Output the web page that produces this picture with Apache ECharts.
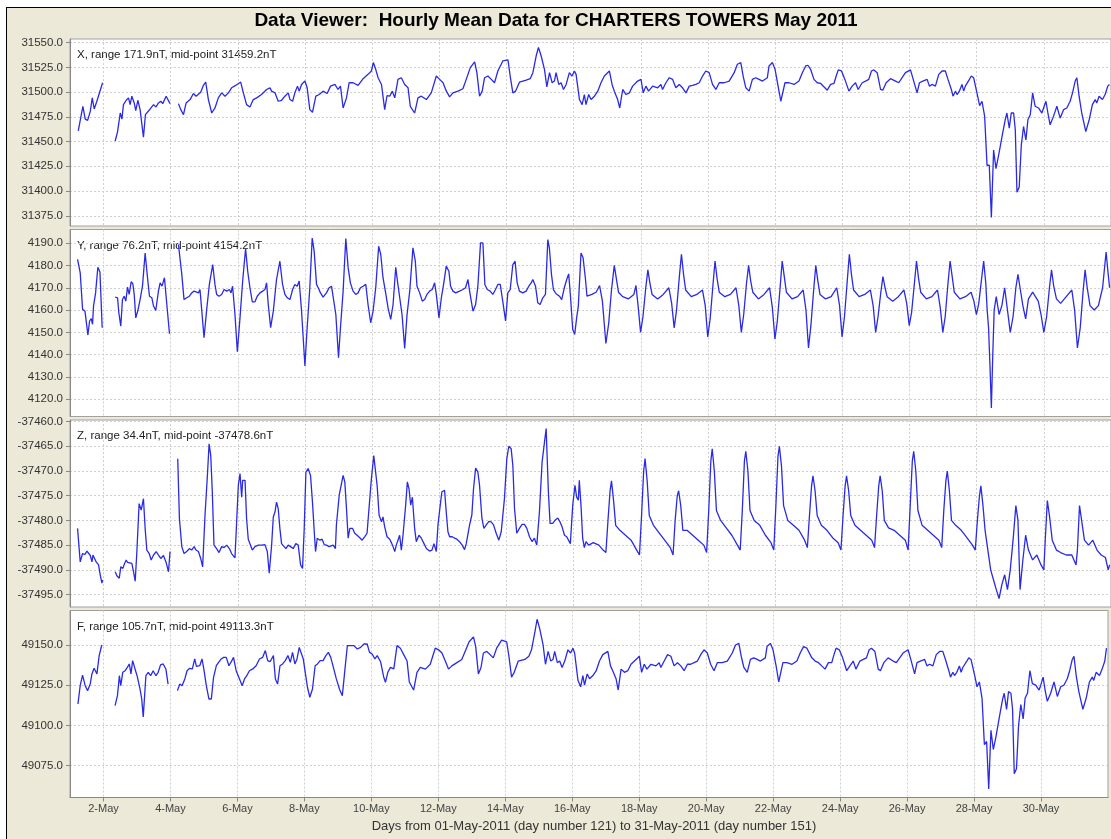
<!DOCTYPE html>
<html>
<head>
<meta charset="utf-8">
<script src="https://cdn.jsdelivr.net/npm/echarts@6/dist/echarts.min.js"></script>
<style>
html, body { margin: 0; padding: 0; background: #fff; overflow: hidden; }
#frame { position: absolute; left: 6px; top: 7px; width: 1200px; height: 1000px; border: 1.5px solid #000; background: #ECE9D8; }
#chart { position: absolute; left: 0; top: 0; width: 1111px; height: 839px; }
</style>
</head>
<body>
<div id="frame"></div>
<div id="chart"></div>
<script>
// 各分量：名称、范围、中点（取自图中文字）
var panelNames = ['X', 'Y', 'Z', 'F'];
var panelRange = [171.9, 76.2, 34.4, 105.7];
var panelMid = [31459.2, 4154.2, -37478.6, 49113.3];
var tickStep = [25, 10, 5, 25];

// 数据：[距 01-May 00:00 的小时数, nT]，null 表示缺测
var xComp = [
[5.9,31460.8],[9.2,31485.7],[10.9,31472.7],[12.6,31471.4],[14.5,31480.6],[15.9,31494.2],[17.3,31483.0],[19.2,31490.8],[23.3,31509.5],null,
[32.3,31450.6],[34.0,31460.1],[35.9,31478.9],[37.1,31472.7],[38.2,31487.4],[40.2,31491.8],[41.8,31494.2],[43.0,31487.4],[44.2,31495.9],[45.9,31489.1],[47.0,31481.3],[48.5,31491.8],[50.1,31482.3],[52.5,31454.4],[53.9,31477.2],[57.3,31483.0],[59.7,31487.4],[61.5,31485.0],[63.2,31489.1],[64.9,31490.8],[66.3,31488.4],[68.7,31495.9],[71.5,31488.4],null,
[77.5,31488.4],[79.2,31482.3],[81.1,31477.2],[83.0,31489.1],[85.8,31492.5],[88.2,31498.6],[90.1,31495.9],[93.4,31500.0],[95.3,31506.8],[97.0,31510.2],[98.9,31492.5],[101.3,31478.9],[103.6,31484.0],[106.0,31494.2],[108.4,31499.3],[110.8,31495.9],[113.2,31499.3],[115.5,31504.4],[118.4,31506.8],[122.0,31510.2],[123.9,31499.3],[126.2,31487.4],[128.6,31485.0],[131.0,31492.5],[133.4,31494.2],[136.9,31497.6],[140.5,31502.7],[142.9,31504.4],[144.1,31501.0],[146.5,31499.3],[148.8,31490.8],[151.2,31491.8],[153.6,31495.9],[156.0,31499.3],[157.2,31492.5],[159.1,31490.8],[160.7,31499.3],[162.6,31506.1],[163.8,31501.0],[165.5,31507.8],[167.9,31511.2],[169.5,31504.4],[171.4,31482.3],[173.3,31479.6],[175.7,31495.9],[178.1,31497.6],[180.9,31501.0],[183.8,31498.6],[186.2,31506.1],[189.3,31507.8],[191.6,31502.7],[193.3,31506.1],[195.2,31484.0],[197.6,31494.2],[199.5,31509.5],[202.3,31509.5],[205.9,31506.8],[209.5,31513.6],[213.0,31518.0],[215.4,31521.4],[216.8,31529.9],[218.5,31523.1],[220.2,31514.6],[222.6,31507.8],[224.9,31482.3],[226.6,31496.6],[228.5,31495.9],[230.4,31501.0],[232.1,31494.2],[234.4,31512.9],[236.8,31514.6],[239.2,31507.8],[241.6,31504.4],[243.2,31485.7],[246.3,31478.9],[248.7,31494.2],[251.1,31495.9],[254.7,31492.5],[258.2,31499.3],[261.8,31516.3],[264.2,31512.9],
[266.6,31509.5],[269.0,31501.0],[271.3,31495.2],[273.7,31499.3],[277.3,31501.0],[280.8,31503.4],[283.2,31512.9],[286.1,31524.8],[289.2,31530.6],[290.8,31519.7],[292.7,31495.9],[294.6,31501.0],[296.3,31514.6],[298.7,31516.3],[301.1,31512.9],[303.4,31509.5],[305.8,31521.4],[309.4,31531.7],[313.0,31532.7],[314.6,31516.3],[316.5,31499.3],[318.4,31501.0],[321.3,31510.2],[326.0,31512.2],[328.9,31513.6],[330.8,31519.7],[333.2,31536.8],[334.8,31545.2],[336.7,31536.8],[339.1,31523.1],[340.8,31505.4],[342.7,31519.7],[344.6,31509.5],[346.2,31511.2],[347.4,31519.7],[349.3,31507.8],[351.0,31509.5],[352.7,31502.7],[354.6,31507.8],[356.9,31519.7],[358.8,31516.3],[360.5,31521.4],[361.7,31518.0],[364.1,31492.5],[366.0,31487.4],[367.6,31497.6],[368.8,31487.4],[370.7,31497.6],[372.4,31492.5],[374.8,31495.9],[377.2,31501.0],[379.5,31509.5],[381.9,31516.3],[385.5,31521.4],[387.4,31507.8],[389.0,31501.0],[391.4,31492.5],[392.9,31484.0],[395.0,31502.7],[397.4,31497.6],[399.8,31499.3],[402.1,31506.1],[405.7,31511.2],[408.1,31512.9],[409.7,31499.3],[411.6,31506.1],[413.5,31501.0],[416.4,31506.1],[420.0,31504.4],[422.3,31507.8],[423.5,31502.7],[425.9,31509.5],[428.3,31514.6],[430.7,31512.9],[433.0,31504.4],[435.4,31507.8],[437.8,31504.4],[440.2,31499.3],[442.6,31506.1],[444.9,31506.8],[447.3,31507.8],[449.7,31509.5],[452.1,31516.3],[454.4,31521.4],[456.8,31519.7],[459.2,31507.8],[461.6,31502.7],[464.0,31509.5],[467.5,31509.5],[471.1,31511.2],[474.7,31519.7],[477.0,31528.2],[479.4,31529.9],[481.1,31516.3],[483.0,31504.4],[485.4,31501.0],[487.7,31512.9],[490.1,31514.6],[492.5,31512.9],[494.9,31511.2],[498.4,31514.6],[499.6,31526.5],[502.0,31529.9],[503.9,31523.1],[506.3,31504.4],[508.0,31490.8],[509.1,31490.8],[511.0,31509.5],[513.9,31509.5],[517.5,31507.8],[521.0,31511.2],[523.4,31519.7],[525.8,31526.5],[527.4,31527.2],[529.3,31523.1],
[531.7,31512.9],[534.1,31509.5],[536.5,31508.8],[538.8,31505.4],[541.2,31502.0],[543.6,31507.8],[546.0,31508.8],[547.6,31516.3],[549.1,31522.5],[551.4,31521.4],[553.8,31512.9],[556.7,31501.0],[559.0,31506.1],[561.4,31509.5],[563.3,31502.7],[566.2,31509.5],[568.6,31511.2],[570.9,31512.9],[572.8,31521.4],[574.5,31522.5],[576.9,31519.7],[579.3,31502.7],[580.9,31502.0],[583.3,31509.5],[586.4,31513.6],[590.0,31511.2],[592.3,31509.5],[594.7,31514.6],[597.1,31519.7],[600.7,31522.5],[603.0,31511.2],[605.4,31499.3],[607.1,31509.5],[609.5,31511.2],[612.6,31512.9],[614.2,31506.1],[616.1,31507.8],[618.5,31506.1],[620.9,31518.0],[623.3,31521.4],[625.6,31521.4],[627.5,31512.9],[629.9,31502.7],[631.1,31495.9],[632.8,31501.0],[634.0,31497.6],[635.6,31501.0],[637.5,31507.8],[638.7,31501.0],[639.9,31506.1],[641.1,31504.4],[642.8,31512.9],[644.2,31516.3],[645.8,31514.6],[647.0,31516.3],[648.7,31495.9],[650.1,31486.4],[651.8,31490.8],[653.7,31475.5],[655.4,31426.1],[657.0,31426.1],[658.5,31373.3],[660.1,31441.4],[661.8,31422.7],[663.7,31436.3],[666.1,31455.0],[668.4,31472.1],[669.6,31478.9],[671.3,31463.6],[672.7,31478.9],[674.4,31478.9],[675.6,31461.8],[676.8,31398.9],[678.4,31404.0],[679.9,31446.5],[681.5,31465.3],[683.2,31451.6],[684.6,31472.1],[686.3,31477.2],[688.0,31499.3],[689.8,31485.7],[692.2,31484.0],[694.6,31478.9],[695.8,31484.0],[697.5,31490.8],[698.9,31478.9],[700.5,31467.0],[702.9,31475.5],[705.3,31485.7],[707.7,31473.8],[710.1,31482.3],[712.4,31484.0],[714.8,31490.8],[716.5,31499.3],[718.4,31511.2],[719.6,31514.6],[721.2,31495.9],[723.1,31478.9],[726.0,31460.1],[728.4,31472.1],[730.7,31487.4],[732.7,31492.5],[733.8,31489.1],[735.5,31495.9],[737.9,31492.5],[739.8,31497.6],[741.7,31506.1],[742.9,31507.8]
];

var yComp = [
[5.4,4182.7],[7.3,4176.7],[9.0,4160.3],[10.7,4159.5],[12.8,4148.8],[14.0,4155.1],[15.2,4156.2],[16.1,4153.6],[16.8,4161.8],[18.3,4167.7],[19.9,4179.2],[21.4,4177.1],[23.0,4152.1],null,
[32.3,4165.8],[34.0,4165.5],[34.9,4158.8],[36.3,4152.8],[37.5,4164.7],[38.7,4166.2],[39.9,4164.0],[41.1,4170.3],[42.3,4167.0],[43.7,4172.7],[44.9,4171.8],[45.9,4167.0],[47.0,4156.5],[48.5,4159.8],[50.1,4164.7],[51.8,4170.7],[53.7,4185.6],[55.4,4174.5],[56.8,4166.2],[58.5,4165.5],[59.7,4161.8],[61.3,4159.8],[63.2,4168.5],[64.4,4172.2],[65.8,4170.7],[67.5,4174.5],[69.2,4162.5],[71.1,4149.4],null,
[77.5,4189.4],[79.9,4176.0],[81.5,4164.7],[83.4,4165.5],[85.3,4166.2],[87.0,4167.7],[88.7,4168.5],[90.1,4169.2],[91.8,4167.7],[92.9,4169.2],[94.1,4160.3],[95.8,4147.6],[97.7,4160.3],[99.6,4171.5],[102.0,4180.4],[103.6,4171.5],[104.8,4167.0],[106.5,4166.2],[108.4,4167.0],[110.1,4169.2],[112.0,4168.5],[113.9,4169.2],[115.1,4167.7],[116.2,4170.7],[117.9,4158.0],[119.6,4141.3],[121.5,4156.5],[123.4,4173.0],[125.5,4187.6],[127.0,4177.4],[128.6,4170.0],[130.3,4163.7],[132.2,4163.7],[133.8,4166.2],[135.8,4167.7],[137.7,4168.5],[139.3,4169.2],[140.5,4172.2],[141.7,4162.5],[143.4,4152.1],[145.3,4159.5],[147.6,4173.7],[150.0,4181.9],[151.9,4171.5],[153.6,4167.0],[155.3,4165.5],[157.2,4164.7],[159.1,4169.2],[160.7,4171.5],[162.4,4170.7],[163.8,4173.0],[165.5,4159.5],[167.9,4134.9],[169.5,4152.1],[171.4,4170.0],[173.1,4192.3],[174.5,4186.4],[176.2,4171.5],[177.4,4170.0],[179.0,4167.7],[180.9,4165.8],[183.3,4167.7],[185.2,4170.0],[186.9,4170.7],[188.1,4170.0],[190.0,4158.0],[191.9,4138.6],[193.3,4152.1],[195.2,4168.5],[197.1,4192.1],[198.8,4178.9],[200.4,4172.2],[202.3,4168.5],[204.2,4167.0],[205.9,4167.7],[207.6,4170.0],[209.5,4170.7],[211.4,4171.5],[213.0,4162.5],[214.9,4154.3],[216.6,4159.5],[218.5,4170.0],[220.6,4188.6],[222.1,4184.9],[223.7,4174.5],[225.6,4167.7],[227.3,4161.0],[229.2,4155.8],[230.9,4162.5],[232.8,4179.2],[234.2,4172.2],[235.6,4171.8],[237.3,4158.0],[239.2,4142.8],[240.9,4158.0],[242.8,4168.5],[245.1,4187.9],[246.8,4181.9],[248.0,4170.7],[249.9,4167.7],[251.8,4164.0],[253.5,4164.7],[255.1,4167.0],[257.0,4168.5],[258.9,4169.2],[260.6,4172.2],[261.8,4167.0],[263.7,4156.5],[265.4,4165.5],[267.0,4171.5],[268.9,4179.7],[270.8,4177.4],[272.0,4170.7],[273.7,4168.5],[275.6,4167.7],[278.4,4168.5],[280.8,4169.2],[282.7,4170.0],[284.4,4173.7],[285.6,4168.5],[288.0,4159.5],[289.9,4162.5],[291.5,4170.7],[293.4,4190.1],[295.1,4190.1],[296.5,4171.5],[298.2,4169.2],[300.3,4168.5],[302.2,4167.0],[304.1,4169.2],[305.8,4171.5],[307.5,4171.5],[308.9,4171.8],[309.8,4161.8],[311.3,4155.1],[312.9,4167.7],[314.6,4169.2],[316.5,4180.4],[318.1,4181.9],[319.6,4172.2],[321.2,4168.5],[323.6,4167.7],[326.0,4168.5],[327.9,4170.7],[329.6,4172.2],[330.8,4173.7],[332.7,4170.7],[334.3,4163.3],[336.0,4162.5],[337.9,4165.5],[339.8,4167.0],[341.5,4191.6],[342.6,4187.9],[344.1,4176.0],[345.5,4169.2],[347.4,4167.3],[349.8,4166.2],[351.4,4164.7],[353.3,4170.0],[355.0,4173.7],[356.4,4176.2],[357.6,4167.0],[359.3,4151.3],[360.7,4149.1],[362.1,4156.5],[363.3,4161.8],[365.2,4185.6],[366.7,4183.4],[368.3,4174.5],[369.5,4166.2],[370.7,4166.2],
[373,4167],[376,4168],[378.5,4171],[380.5,4164],[383,4145],[385,4154],[387,4169],[389,4180],[390.5,4174],[392,4168],[395,4166],[399,4165],[403,4167],[404.5,4171],[406,4162],[407.8,4150],[409.5,4157],[411.5,4170],[413,4178],[414.5,4172],[416,4167],[420,4165],[424,4167],[428,4170],[430,4163],[431.8,4152],[433.5,4160],[435.5,4175],[437,4185],[438.5,4176],[440,4169],[444,4166],[448,4167],[452,4169],[454,4162],[455.8,4148],[457.5,4156],[459.5,4171],[461,4182],[462.5,4174],[464,4168],[468,4166],[472,4167],[476,4170],[478,4162],[479.8,4150],[481.5,4158],[483.5,4172],[485,4180],[486.5,4173],[488,4168],[492,4165],[496,4167],[500,4170],[502,4161],[503.8,4147],[505.5,4155],[507.5,4170],[509,4182],[510.5,4175],[512,4168],[516,4165],[520,4166],[524,4169],[526,4160],[527.8,4143],[529.5,4153],[531.5,4169],[533,4180],[534.5,4173],[536,4167],[540,4165],[544,4166],[548,4170],[550,4162],[551.8,4148],[553.5,4157],[555.5,4173],[557,4185],[558.5,4176],[560,4169],[564,4166],[568,4167],[572,4169],[574,4162],[575.8,4150],[577.5,4157],[579.5,4168],[581,4175],[582.5,4170],[584,4166],[588,4164],[592,4166],[596,4169],[598,4163],[599.8,4153],[601.5,4159],[603.5,4172],[605,4182],[606.5,4174],[608,4168],[612,4165],[616,4166],[620,4169],[622,4161],[623.8,4150],[625.5,4157],[627.5,4172],[629,4182],[630.5,4175],[632,4168],[636,4165],[640,4166],[644,4168],[646,4164],[647.8,4158],[649.5,4163],[651.5,4174],[653,4182],[654.5,4172],[655.5,4160],[656.5,4152],[657.5,4135],[658.5,4116.1],[659.5,4140],[660.5,4160],[662,4166],[664,4158],[666,4162],[668,4170],[670,4160],[672,4150],[674,4157],[676,4170],[677.5,4176],[679,4170],[681,4162],[683,4156],[685,4165],[688,4168],[692,4164],[694,4158],[696,4150],[698,4157],[700,4170],[701.5,4178],[703,4171],[705,4165],[708,4163],[712,4166],[716,4169],[718,4160],[720,4143],[722,4152],[724,4168],[725.5,4178],[727,4170],[729,4162],[732,4160],[735,4162],[738,4170],[740.5,4186],[742,4176],[743,4170]
];

var zComp = [
[5.4,-37481.6],[7.3,-37488.4],[9.0,-37486.7],[10.7,-37486.9],[12.1,-37486.2],[13.3,-37486.3],[14.5,-37487.1],[15.7,-37488.4],[16.4,-37487.0],[17.6,-37487.4],[18.7,-37488.4],[20.4,-37489.0],[21.6,-37491.0],[22.8,-37492.7],[23.3,-37492.1],null,
[32.3,-37490.4],[33.5,-37491.2],[35.2,-37491.7],[36.3,-37489.4],[37.8,-37489.7],[39.0,-37488.7],[40.2,-37488.0],[41.1,-37488.5],[42.5,-37488.2],[44.2,-37488.7],[45.4,-37490.4],[46.6,-37492.3],[47.8,-37486.3],[49.4,-37476.6],[50.9,-37477.9],[52.5,-37475.6],[53.7,-37481.6],[54.9,-37486.0],[56.6,-37486.7],[58.0,-37488.0],[59.7,-37487.0],[61.6,-37486.3],[63.2,-37487.0],[64.9,-37487.7],[66.8,-37487.1],[68.7,-37488.5],[70.4,-37490.4],[71.5,-37486.3],null,
[77.0,-37467.5],[78.2,-37479.6],[79.9,-37485.3],[81.5,-37486.7],[83.4,-37486.3],[85.3,-37485.7],[87.0,-37486.0],[88.7,-37485.3],[90.1,-37486.0],[91.8,-37486.3],[93.4,-37487.7],[94.8,-37489.4],[96.5,-37478.9],[98.2,-37470.9],[99.4,-37464.5],[100.6,-37466.9],[101.7,-37474.2],[102.9,-37485.0],[104.8,-37485.7],[106.5,-37486.5],[108.4,-37485.3],[110.1,-37485.5],[112.0,-37485.0],[113.9,-37485.7],[115.5,-37486.7],[117.9,-37487.6],[119.1,-37480.3],[120.3,-37472.9],[121.5,-37470.5],[122.7,-37475.3],[123.4,-37471.9],[125.1,-37471.9],[126.2,-37479.6],[127.4,-37483.8],[128.6,-37484.0],[130.3,-37486.0],[132.2,-37485.3],[134.6,-37485.0],[137.0,-37485.0],[139.3,-37484.9],[141.0,-37486.3],[142.4,-37490.7],[144.1,-37485.0],[145.3,-37479.3],[146.5,-37478.3],[147.6,-37476.3],[148.8,-37477.6],[150.0,-37481.6],[151.2,-37484.7],[152.4,-37485.0],[154.3,-37485.7],[156.0,-37485.0],[157.6,-37485.3],[159.5,-37485.7],[161.4,-37484.7],[163.1,-37485.0],[164.8,-37489.0],[166.2,-37489.7],[167.4,-37481.6],[168.6,-37470.2],[170.2,-37469.5],[171.9,-37470.9],[173.3,-37476.3],[174.5,-37482.0],[175.5,-37486.3],[176.7,-37483.6],[178.6,-37484.0],[180.2,-37483.8],[181.7,-37484.9],[183.3,-37485.0],[185.2,-37485.3],[188.1,-37485.0],[189.7,-37485.7],[190.4,-37480.9],[192.4,-37474.9],[194.0,-37472.6],[195.2,-37470.9],[196.4,-37472.2],[197.6,-37477.6],[198.8,-37483.6],[200.0,-37481.6],[201.9,-37481.6],[203.5,-37482.6],[205.2,-37483.0],[207.1,-37483.5],[208.8,-37484.0],[210.7,-37483.3],[212.3,-37482.6],[213.5,-37478.3],[215.4,-37471.6],[217.1,-37466.9],[218.3,-37466.9],[219.5,-37472.9],[220.9,-37478.9],[222.6,-37480.3],[223.7,-37479.3],[224.9,-37481.3],[226.6,-37483.3],[228.5,-37483.8],[229.7,-37484.5],[230.9,-37485.3],[232.1,-37486.3],[233.2,-37485.0],[234.4,-37484.0],[235.6,-37483.0],[236.8,-37486.0],[238.0,-37483.0],[239.9,-37476.9],[241.1,-37472.2],[242.3,-37473.6],[243.5,-37476.9],[244.7,-37475.3],[246.3,-37481.6],[247.5,-37484.3],[249.4,-37483.0],[251.1,-37483.6],[253.0,-37484.7],[254.7,-37485.7],[257.0,-37486.2],[258.7,-37486.0],[260.1,-37484.7],[261.8,-37486.3],[263.0,-37480.9],[264.6,-37476.9],[265.8,-37474.2],[267.7,-37473.9],[268.9,-37478.3],[270.1,-37482.3],[271.3,-37483.3],[273.2,-37483.3],[274.9,-37483.6],[276.5,-37483.8],[278.4,-37484.3],[280.3,-37485.0],[282.0,-37485.9],[283.2,-37484.7],[285.6,-37480.9],[287.2,-37478.9],[288.4,-37473.6],[289.9,-37469.4],[291.5,-37470.2],[292.7,-37472.9],[294.4,-37479.6],[295.8,-37481.6],[297.5,-37480.9],[299.4,-37480.2],[301.0,-37480.3],[302.7,-37480.9],[304.6,-37482.6],[306.5,-37484.0],[308.2,-37482.3],[309.4,-37482.6],[310.5,-37475.6],[312.2,-37467.5],[313.6,-37465.0],[315.3,-37465.5],[316.5,-37468.9],[317.7,-37477.6],[319.3,-37482.6],[321.2,-37481.6],[323.1,-37480.8],[324.8,-37480.8],[326.5,-37481.6],[328.4,-37483.3],[330.3,-37484.3],[331.9,-37483.6],[333.6,-37485.0],[335.5,-37478.3],[337.4,-37468.2],[339.1,-37464.2],[340.3,-37461.4],[341.9,-37474.2],[343.1,-37480.6],[345.0,-37480.6],[346.9,-37479.9],[348.6,-37479.5],[350.2,-37480.3],[351.7,-37481.3],[353.4,-37483.0],[355.0,-37483.3],[356.4,-37483.1],[357.6,-37484.7],[359.3,-37476.9],[360.9,-37472.9],[362.1,-37475.3],[363.3,-37475.9],[364.0,-37471.9],[365.2,-37476.9],[366.4,-37483.6],[367.6,-37485.5],[368.8,-37484.3],[370.7,-37485.0],
[374,-37484.5],[378,-37485],[381,-37486],[383,-37486.5],[384.5,-37480],[386,-37474],[387,-37472],[388.5,-37476],[390,-37481],[393,-37482],[397,-37483],[401,-37484],[405,-37486],[407,-37487],[408.5,-37479],[410,-37470],[411,-37467.5],[412.5,-37472],[414,-37479],[417,-37481],[421,-37482.5],[425,-37484],[429,-37485.5],[431,-37487],[432.5,-37480],[434,-37475],[435,-37474],[436.5,-37477],[438,-37482],[441,-37482],[445,-37483],[449,-37484],[453,-37485],[455,-37486.5],[456.5,-37478],[458,-37468],[459,-37465.5],[460.5,-37470],[462,-37478],[465,-37480],[469,-37481.5],[473,-37483],[477,-37485],[479,-37486],[480.5,-37478],[482,-37468],[483,-37466],[484.5,-37470],[486,-37478],[489,-37480],[493,-37481],[497,-37483],[501,-37484.5],[503,-37486],[504.5,-37477],[506,-37467],[507,-37465],[508.5,-37469],[510,-37477],[513,-37480],[517,-37481],[521,-37482],[525,-37484],[527,-37485.5],[528.5,-37479],[530,-37473],[531,-37471],[532.5,-37474],[534,-37479],[537,-37481],[541,-37482],[545,-37483.5],[549,-37484.5],[551,-37486],[552.5,-37479],[554,-37473],[555,-37471],[556.5,-37474],[558,-37479],[561,-37481],[565,-37482],[569,-37483],[573,-37484],[575,-37485.5],[576.5,-37479],[578,-37473],[579,-37471],[580.5,-37474],[582,-37480],[585,-37481.5],[589,-37482],[593,-37483],[597,-37484],[599,-37486],[600.5,-37477],[602,-37468],[603,-37466],[604.5,-37470],[606,-37478],[609,-37481],[613,-37482],[617,-37483],[621,-37484],[623,-37485.5],[624.5,-37478],[626,-37472],[627,-37470],[628.5,-37474],[630,-37480],[633,-37481],[637,-37482],[641,-37483.5],[645,-37485],[647,-37486],[648.5,-37480],[650,-37475],[651,-37473],[652.5,-37477],[654,-37482],[656,-37486],[658,-37490],[660,-37492],[662,-37494],[664,-37495.8],[666,-37493],[668,-37491],[670,-37494],[672,-37490],[674,-37484],[676,-37477],[677.5,-37480],[679,-37494],[681,-37488],[683,-37483],[685,-37486],[688,-37488],[691,-37487],[694,-37489],[696,-37490],[697,-37484],[698.5,-37476],[700,-37479],[702,-37484],[705,-37486],[708,-37486.5],[712,-37487],[716,-37487],[719,-37489],[720,-37486],[721.5,-37477],[723,-37480],[725,-37484],[728,-37485],[731,-37484],[734,-37486],[737,-37487],[740,-37487.5],[742,-37490],[743,-37489]
];

var fComp = [
[5.7,49113.3],[7.3,49124.7],[9.0,49131.3],[10.9,49124.7],[12.6,49121.6],[14.5,49125.7],[15.7,49132.0],[17.3,49135.5],[19.3,49132.0],[20.9,49143.4],[22.8,49150.0],null,
[32.3,49112.3],[34.0,49118.5],[35.4,49130.9],[36.4,49124.7],[37.8,49133.0],[39.5,49134.0],[41.1,49136.1],[42.5,49138.2],[43.7,49132.0],[44.9,49140.3],[46.6,49135.1],[48.2,49130.5],[50.2,49122.6],[51.4,49116.4],[52.5,49105.3],[54.4,49130.9],[56.1,49133.0],[57.8,49130.9],[59.6,49134.0],[61.6,49130.9],[63.2,49133.0],[64.9,49137.6],[66.8,49138.2],[68.7,49135.1],[70.3,49125.7],null,
[77.0,49121.6],[78.7,49125.7],[80.3,49124.7],[82.3,49128.9],[83.9,49134.0],[85.8,49135.5],[87.7,49135.1],[89.4,49141.3],[90.6,49136.7],[93.0,49137.1],[94.6,49141.3],[96.0,49134.7],[97.7,49124.7],[99.6,49116.4],[101.3,49116.4],[102.9,49129.9],[104.9,49137.1],[106.5,49139.2],[108.4,49141.3],[110.1,49142.3],[112.0,49142.3],[113.9,49137.1],[115.6,49139.6],[117.2,49142.3],[119.1,49134.0],[121.0,49129.9],[123.4,49124.7],[125.1,49128.9],[126.7,49130.9],[128.6,49134.0],[131.0,49135.1],[133.4,49137.1],[135.8,49141.3],[138.1,49142.3],[140.0,49146.5],[141.7,49140.3],[143.4,49139.6],[144.8,49140.3],[145.8,49143.4],[147.2,49128.9],[148.8,49125.7],[150.5,49137.1],[152.4,49138.2],[154.3,49140.3],[156.2,49143.4],[157.9,49139.2],[159.5,49145.4],[161.2,49138.2],[162.7,49141.3],[164.3,49148.5],[165.7,49149.6],[167.2,49141.3],[168.6,49133.0],[170.2,49123.7],[171.9,49117.5],[173.8,49122.6],[175.7,49137.1],[177.4,49138.2],[179.3,49140.3],[181.4,49140.3],[183.4,49143.4],[185.2,49145.4],[186.9,49142.3],[188.6,49136.7],[190.9,49128.9],[193.3,49122.2],[195.2,49118.5],[197.1,49135.1],[198.8,49149.6],[201.2,49149.6],[203.5,49149.6],[205.9,49147.5],[208.3,49148.5],[210.7,49150.6],[213.0,49150.6],[214.7,49145.4],[216.6,49144.4],[218.5,49141.3],[220.2,49143.4],[222.6,49139.6],[224.9,49129.9],[226.1,49126.8],[227.8,49133.0],[229.7,49136.1],[232.1,49135.1],[234.4,49149.6],
[236.8,49148],[239.2,49144],[241.6,49140],[243.2,49127],[246.3,49122],[248.7,49133],[251.1,49136],[254.7,49135],[258.2,49138],[261.8,49148],[264.2,49147],[266.6,49145],[269.0,49140],[271.3,49135],[273.7,49137],[277.3,49139],[280.8,49141],[283.2,49146],[286.1,49152],[289.2,49155],[290.8,49149],[292.7,49132],[294.6,49136],[296.3,49145],[298.7,49146],[301.1,49144],[303.4,49142],[305.8,49148],[309.4,49153],[313.0,49152],[314.6,49143],[316.5,49130],[318.4,49133],[321.3,49140],[326.0,49141],[328.9,49143],[330.8,49147],[333.2,49158],[334.8,49166],[336.7,49160],[339.1,49150],[340.8,49138],[342.7,49146],[344.6,49140],[346.2,49141],[347.4,49146],[349.3,49139],[351.0,49140],[352.7,49136],[354.6,49140],[356.9,49147],[358.8,49145],[360.5,49148],[361.7,49145],[364.1,49128],[366.0,49124],[367.6,49131],[368.8,49125],[370.7,49132],[372.4,49129],[374.8,49131],[377.2,49134],[379.5,49140],[381.9,49144],[385.5,49146],[387.4,49137],[389.0,49134],[391.4,49129],[392.9,49122],[395.0,49135],[397.4,49133],[399.8,49134],[402.1,49138],[405.7,49141],[408.1,49143],[409.7,49133],[411.6,49138],[413.5,49135],[416.4,49138],[420.0,49137],[422.3,49139],[423.5,49136],[425.9,49140],[428.3,49144],[430.7,49143],[433.0,49137],[435.4,49139],[437.8,49137],[440.2,49134],[442.6,49138],[444.9,49138],[447.3,49139],[449.7,49140],[452.1,49144],[454.4,49147],[456.8,49145],[459.2,49138],[461.6,49134],[464.0,49139],[467.5,49139],[471.1,49140],[474.7,49145],[477.0,49150],[479.4,49151],[481.1,49143],[483.0,49136],[485.4,49133],[487.7,49141],[490.1,49142],[492.5,49141],[494.9,49140],[498.4,49142],[499.6,49149],[502.0,49151],[503.9,49147],[506.3,49136],[508.0,49127],[509.1,49128],[511.0,49139],[513.9,49139],[517.5,49138],[521.0,49140],[523.4,49145],[525.8,49149],[528.2,49148],[531.7,49142],[534.1,49140],[536.5,49139],[538.8,49137],[541.2,49135],[543.6,49139],[546.0,49139],[547.6,49144],[549.1,49148],[551.4,49147],[553.8,49142],[556.7,49134],[559.0,49137],[561.4,49140],[563.3,49135],[566.2,49140],[568.6,49141],[570.9,49142],[572.8,49147],[574.5,49148],[576.9,49146],[579.3,49135],[580.9,49134],[583.3,49139],[586.4,49142],[590.0,49140],[592.3,49139],[594.7,49142],[597.1,49145],[600.7,49147],[603.0,49140],[605.4,49132],[607.1,49139],[609.5,49140],[612.6,49141],[614.2,49137],[616.1,49138],[618.5,49137],[620.9,49144],[623.3,49146],[625.6,49146],[627.5,49141],[629.9,49134],[631.1,49130],[632.8,49133],[634.0,49131],[635.6,49133],[637.5,49137],[638.7,49133],[639.9,49136],[641.1,49135],[642.8,49140],[644.2,49142],[645.8,49141],[647.0,49142],[648.7,49130],[650.1,49124],[651.8,49127],[653.7,49117],[655.4,49088],[657.0,49090],[658.5,49060.5],[660.1,49097],[661.8,49085],[663.7,49093],[666.1,49105],[668.4,49116],[669.6,49120],[671.3,49110],[672.7,49121],[674.4,49120],[675.6,49110],[676.8,49070],[678.4,49073],[679.9,49100],[681.5,49113],[683.2,49104],[684.6,49117],[686.3,49120],[688.0,49134],[689.8,49126],[692.2,49125],[694.6,49122],[695.8,49125],[697.5,49130],[698.9,49122],[700.5,49115],[702.9,49120],[705.3,49127],[707.7,49118],[710.1,49124],[712.4,49125],[714.8,49129],[716.5,49134],[718.4,49141],[719.6,49143],[721.2,49131],[723.1,49121],[726.0,49110],[728.4,49117],[730.7,49127],[732.7,49130],[733.8,49128],[735.5,49133],[737.9,49131],[739.8,49135],[741.7,49140],[742.9,49148]
];

var seriesData = [xComp, yComp, zComp, fComp];

var firstDay = 121;   // 01-May-2011 的年积日
var lastDay = 152;    // 01-Jun-2011 00:00
var dayStep = 2;

var gridTop = [39, 229.5, 420, 610.5];
var gridHeight = 187;

function isStep(v, step) {
    return Math.abs(v / step - Math.round(v / step)) < 1e-6;
}
// 只在整刻度处画刻度线
function stepValues(lo, hi, step) {
    var out = [];
    for (var v = Math.ceil(lo / step) * step; v <= hi; v += step) out.push(v);
    return out;
}

var grids = [], xAxes = [], yAxes = [], series = [], texts = [];
var dayTicks = stepValues(firstDay + 1, lastDay - 1, dayStep);

for (var i = 0; i < 4; i++) {
    var half = panelRange[i] / 2 * 1.1;
    var yMin = panelMid[i] - half, yMax = panelMid[i] + half;
    var last = (i === 3);
    grids.push({
        left: 70, width: 1042, top: gridTop[i], height: gridHeight,
        show: true, backgroundColor: '#fff', borderColor: '#a0a0a0', borderWidth: 1
    });
    xAxes.push({
        type: 'value', gridIndex: i, min: firstDay, max: lastDay,
        minInterval: dayStep, maxInterval: dayStep,
        axisLine: { show: last, onZero: false, lineStyle: { color: '#888' } },
        axisTick: { show: last, length: 4, customValues: dayTicks, lineStyle: { color: '#888' } },
        axisLabel: {
            show: last, margin: 6, color: '#444', fontSize: 11, fontFamily: 'Liberation Sans',
            showMinLabel: true, showMaxLabel: true,
            formatter: function (v) {
                if (v <= firstDay || v >= lastDay || !isStep(v, dayStep)) return '';
                return (Math.round(v) - 120) + '-May';
            }
        },
        splitLine: { show: true, lineStyle: { color: '#d0d0d0', type: [2, 2] } },
        name: last ? 'Days from 01-May-2011 (day number 121) to 31-May-2011 (day number 151)' : '',
        nameLocation: 'middle', nameGap: 22,
        nameTextStyle: { color: '#333', fontSize: 13, fontFamily: 'Liberation Sans', padding: [0, 0, 0, 10] }
    });
    (function (step) {
        yAxes.push({
            type: 'value', gridIndex: i,
            min: yMin, max: yMax,
            minInterval: step, maxInterval: step,
            axisLine: { show: true, lineStyle: { color: '#888' } },
            axisTick: { show: true, length: 4, customValues: stepValues(yMin, yMax, step), lineStyle: { color: '#888' } },
            axisLabel: {
                margin: 7, color: '#333', fontSize: 11.5, fontFamily: 'Liberation Sans',
                showMinLabel: true, showMaxLabel: true,
                formatter: function (v) { return isStep(v, step) ? v.toFixed(1) : ''; }
            },
            splitLine: { show: true, lineStyle: { color: '#d0d0d0', type: [2, 2] } }
        });
    })(tickStep[i]);
    series.push({
        type: 'line', xAxisIndex: i, yAxisIndex: i,
        showSymbol: false, symbol: 'none', connectNulls: false, silent: true,
        lineStyle: { color: '#2a2ae6', width: 1.3 },
        data: seriesData[i].map(function (p) {
            return p ? [firstDay + p[0] / 24, p[1]] : ['-', '-'];
        })
    });
    texts.push({
        type: 'text', x: 77, y: gridTop[i] + 16,
        style: {
            text: panelNames[i] + ', range ' + panelRange[i].toFixed(1) + 'nT, mid-point ' + panelMid[i].toFixed(1) + 'nT',
            fill: '#222', font: '11.5px "Liberation Sans"', verticalAlign: 'middle'
        }
    });
}

texts.push({
    type: 'text', x: 556, y: 21,
    style: {
        text: 'Data Viewer:  Hourly Mean Data for CHARTERS TOWERS May 2011',
        fill: '#000', font: 'bold 19px "Liberation Sans"', align: 'center', verticalAlign: 'middle'
    }
});

var chart = echarts.init(document.getElementById('chart'), null, { renderer: 'canvas' });
chart.setOption({
    animation: false,
    grid: grids,
    xAxis: xAxes,
    yAxis: yAxes,
    series: series,
    graphic: texts
});
</script>
</body>
</html>
